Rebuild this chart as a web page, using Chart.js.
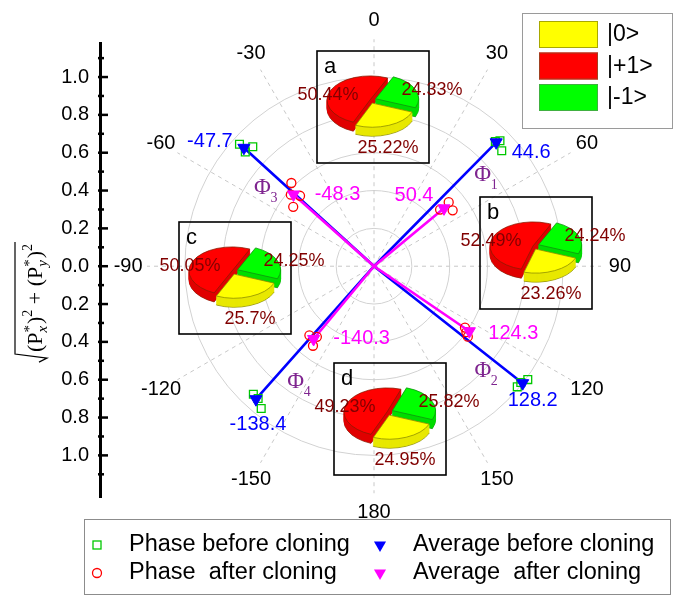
<!DOCTYPE html>
<html lang="en">

<head>
  <meta charset="UTF-8" />
  <title>Phase before and after cloning</title>
  <script src="https://cdn.jsdelivr.net/npm/chart.js"></script>
  <style>
    html, body { margin: 0; padding: 0; background: #fff; }
    #tela { position: relative; width: 676px; height: 595px; }
    #tela > div { position: absolute; pointer-events: none; }
  </style>
</head>

<body>
  <div id="tela">
    <div style="left:0;top:0;width:676px;height:595px;"><canvas id="polarChart"></canvas></div>
  </div>

<script>
  const SANS = '"Liberation Sans", Arial, sans-serif';
  const SERIF = '"Liberation Serif", "Times New Roman", serif';

  // angles in degrees (0 at top, clockwise), radius in units of the left axis
  const angleTicks = [0, 30, 60, 90, 120, 150, 180, -150, -120, -90, -60, -30];
  const ringValues = [0.2, 0.4, 0.6, 0.8, 1.0];
  const radialTicks = [-1.0, -0.8, -0.6, -0.4, -0.2, 0, 0.2, 0.4, 0.6, 0.8, 1.0];
  const radialMinorTicks = [-1.1, -0.9, -0.7, -0.5, -0.3, -0.1, 0.1, 0.3, 0.5, 0.7, 0.9, 1.1];

  const avgBeforeAngle = [44.6, 128.2, -138.4, -47.7];
  const avgBeforeR = [0.92, 1.0, 0.94, 0.93];
  const avgAfterAngle = [50.4, 124.3, -140.3, -48.3];
  const avgAfterR = [0.48, 0.61, 0.50, 0.57];

  const phaseBeforeAngle = [44.2, 45.1, 47.9, 130.1, 126.4, 128.4, -136.7, -138.8, -141.6, -47.8, -45.4, -48.4];
  const phaseBeforeR = [0.92, 0.94, 0.91, 0.99, 1.01, 0.99, 0.93, 0.93, 0.96, 0.96, 0.90, 0.91];
  const phaseAfterAngle = [49.4, 54.6, 49.4, 124.0, 126.9, 125.5, -136.9, -141.0, -142.5, -44.8, -49.3, -46.4, -53.7];
  const phaseAfterR = [0.46, 0.51, 0.52, 0.58, 0.62, 0.60, 0.50, 0.48, 0.53, 0.62, 0.58, 0.54, 0.53];

  const seriesNames = ['Phase before cloning', 'Phase  after cloning', 'Average before cloning', 'Average  after cloning'];
  const phiNames = ['1', '2', '3', '4'];

  const stateLabels = ['|0>', '|+1>', '|-1>'];
  const pieNames = ['a', 'b', 'c', 'd'];
  const pieA = [25.22, 50.44, 24.33];
  const pieB = [23.26, 52.49, 24.24];
  const pieC = [25.7, 50.05, 24.25];
  const pieD = [24.95, 49.23, 25.82];

  // layout
  const pieCenters = [[370, 100], [533, 246], [232, 271], [387, 412]];
  const stateColors = ['#ffff00', '#ff0000', '#00ff00'];
  const stateEdges = ['#8c8c00', '#8a1a00', '#109010'];
  const sideColors = ['#e8e800', '#e00000', '#00dc00'];

  function polar(a, r) {
    const t = a * Math.PI / 180;
    return { x: r * Math.sin(t), y: r * Math.cos(t) };
  }
  function spokes(angles, radii) {
    const pts = [];
    angles.forEach((a, i) => { pts.push({ x: 0, y: 0 }); pts.push(polar(a, radii[i])); });
    return pts;
  }
  function points(angles, radii) {
    return angles.map((a, i) => polar(a, radii[i]));
  }
  function toPixel(chart, a, r) {
    const p = polar(a, r);
    return { x: chart.scales.x.getPixelForValue(p.x), y: chart.scales.y.getPixelForValue(p.y) };
  }

  function square(ctx, x, y, s, color) {
    ctx.strokeStyle = color; ctx.lineWidth = 1.3;
    ctx.strokeRect(x - s / 2, y - s / 2, s, s);
  }
  function circle(ctx, x, y, r, color) {
    ctx.strokeStyle = color; ctx.lineWidth = 1.3;
    ctx.beginPath(); ctx.arc(x, y, r, 0, 2 * Math.PI); ctx.stroke();
  }
  function triangleDown(ctx, x, y, r, color) {
    ctx.fillStyle = color;
    ctx.beginPath();
    ctx.moveTo(x - r * 0.866, y - r / 2);
    ctx.lineTo(x + r * 0.866, y - r / 2);
    ctx.lineTo(x, y + r);
    ctx.closePath(); ctx.fill();
  }

  const polarGrid = {
    id: 'polarGrid',
    beforeDatasetsDraw(chart) {
      const { ctx, scales: { x, y } } = chart;
      const cx = x.getPixelForValue(0), cy = y.getPixelForValue(0);
      const unit = x.getPixelForValue(1) - cx;
      ctx.save();
      ctx.strokeStyle = '#d2d2d2';
      ctx.lineWidth = 1;
      ringValues.forEach(r => {
        ctx.beginPath(); ctx.arc(cx, cy, r * unit, 0, 2 * Math.PI); ctx.stroke();
      });
      ctx.setLineDash([4, 4]);
      ctx.strokeStyle = '#c8c8c8';
      angleTicks.forEach(a => {
        const p = toPixel(chart, a, 1.2);
        ctx.beginPath(); ctx.moveTo(cx, cy); ctx.lineTo(p.x, p.y); ctx.stroke();
      });
      ctx.restore();
    },
    afterDraw(chart) {
      const { ctx, scales: { y } } = chart;
      ctx.save();

      // ticks of the left axis, pointing inwards
      ctx.strokeStyle = '#000';
      ctx.lineWidth = 2.5;
      const ax = y.right - 2;
      radialTicks.forEach(v => {
        const py = y.getPixelForValue(v);
        ctx.beginPath(); ctx.moveTo(ax, py); ctx.lineTo(ax + 10, py); ctx.stroke();
      });
      radialMinorTicks.forEach(v => {
        const py = y.getPixelForValue(v);
        ctx.beginPath(); ctx.moveTo(ax, py); ctx.lineTo(ax + 6, py); ctx.stroke();
      });

      // axis title: sqrt((Px*)^2 + (Py*)^2)
      ctx.translate(42, 298);
      ctx.rotate(-Math.PI / 2);
      const parts = [
        ['(P', 22, 0], ['*|x', 15, 0], [')', 22, 0], ['2', 14, -10],
        [' + (P', 22, 0], ['*|y', 15, 0], [')', 22, 0], ['2', 14, -10]
      ];
      ctx.fillStyle = '#000';
      ctx.textBaseline = 'alphabetic';
      ctx.textAlign = 'left';
      const fontOf = (s, it) => `${it ? 'italic ' : ''}${s}px ${SERIF}`;
      let total = 0;
      parts.forEach(([t, s]) => {
        if (t.includes('|')) {
          const [a, b] = t.split('|');
          ctx.font = fontOf(s); const w1 = ctx.measureText(a).width;
          ctx.font = fontOf(s, true); const w2 = ctx.measureText(b).width;
          total += Math.max(w1, w2) + 1;
        } else {
          ctx.font = fontOf(s); total += ctx.measureText(t).width;
        }
      });
      let u = -total / 2;
      const u0 = u;
      parts.forEach(([t, s, dv]) => {
        if (t.includes('|')) {
          const [a, b] = t.split('|');
          ctx.font = fontOf(s); ctx.fillText(a, u, -8); const w1 = ctx.measureText(a).width;
          ctx.font = fontOf(s, true); ctx.fillText(b, u, 5); const w2 = ctx.measureText(b).width;
          u += Math.max(w1, w2) + 1;
        } else {
          ctx.font = fontOf(s); ctx.fillText(t, u, dv); u += ctx.measureText(t).width;
        }
      });
      ctx.strokeStyle = '#000';
      ctx.lineWidth = 1.2;
      ctx.beginPath();
      ctx.moveTo(u + 2, -27);
      ctx.lineTo(u0 - 2, -27);
      ctx.lineTo(u0 - 6, 5);
      ctx.lineTo(u0 - 10, -3);
      ctx.stroke();
      ctx.setTransform(1, 0, 0, 1, 0, 0);

      // angle labels
      ctx.fillStyle = '#000';
      ctx.font = `20px ${SANS}`;
      ctx.textAlign = 'center';
      ctx.textBaseline = 'middle';
      angleTicks.forEach(a => {
        const p = toPixel(chart, a, 1.3);
        ctx.fillText(String(a), p.x, p.y);
      });

      // values of the averages
      const blueOff = [[35, 10], [10, 17], [2, 25], [-34, -6]];
      const pinkOff = [[-30, -13], [44, 2], [48, -1], [44, 0]];
      ctx.fillStyle = '#0000ff';
      avgBeforeAngle.forEach((a, i) => {
        const p = toPixel(chart, a, avgBeforeR[i]);
        ctx.fillText(a.toFixed(1), p.x + blueOff[i][0], p.y + blueOff[i][1]);
      });
      ctx.fillStyle = '#ff00ff';
      avgAfterAngle.forEach((a, i) => {
        const p = toPixel(chart, a, avgAfterR[i]);
        ctx.fillText(a.toFixed(1), p.x + pinkOff[i][0], p.y + pinkOff[i][1]);
      });

      // Phi labels
      const phiPos = [[50, 0.75], [134, 0.80], [-55, 0.72], [-146, 0.74]];
      ctx.fillStyle = '#7f2590';
      phiNames.forEach((n, i) => {
        const p = toPixel(chart, phiPos[i][0], phiPos[i][1]);
        ctx.font = `23px ${SERIF}`;
        ctx.textAlign = 'center';
        ctx.fillText('Φ', p.x, p.y);
        ctx.font = `14px ${SERIF}`;
        ctx.textAlign = 'left';
        ctx.fillText(n, p.x + 8, p.y + 10);
      });

      // legend of the states
      ctx.strokeStyle = '#9a9a9a';
      ctx.lineWidth = 1;
      ctx.strokeRect(522.5, 13.5, 150, 115);
      ctx.font = `23px ${SANS}`;
      ctx.textAlign = 'left';
      ctx.textBaseline = 'middle';
      stateLabels.forEach((t, i) => {
        const yy = 21 + i * 31.5;
        ctx.fillStyle = stateColors[i];
        ctx.fillRect(539, yy, 59, 27);
        ctx.strokeStyle = ['#a8a800', '#a04020', '#40b040'][i];
        ctx.strokeRect(539.5, yy + 0.5, 58, 26);
        ctx.fillStyle = '#000';
        ctx.fillText(t, 607, yy + 14);
      });

      // legend of the series
      ctx.strokeStyle = '#8c8c8c';
      ctx.strokeRect(84.5, 519.5, 586, 75);
      const cols = [97, 380], rows = [545, 573];
      square(ctx, cols[0], rows[0], 8, '#00c800');
      circle(ctx, cols[0], rows[1], 4.5, '#ff0000');
      triangleDown(ctx, cols[1], rows[0], 7, '#0000ff');
      triangleDown(ctx, cols[1], rows[1], 7, '#ff00ff');
      ctx.fillStyle = '#000';
      ctx.font = `23.5px ${SANS}`;
      ctx.fillText(seriesNames[0], 129, rows[0]);
      ctx.fillText(seriesNames[1], 129, rows[1]);
      ctx.fillText(seriesNames[2], 413, rows[0]);
      ctx.fillText(seriesNames[3], 413, rows[1]);

      ctx.restore();
    }
  };

  Chart.defaults.font.family = SANS;

  new Chart(document.getElementById('polarChart'), {
    type: 'scatter',
    data: {
      datasets: [
        {
          label: 'avg before line', data: spokes(avgBeforeAngle, avgBeforeR), showLine: true,
          borderColor: '#0000ff', borderWidth: 2.6, pointRadius: 0, fill: false, order: 5
        },
        {
          label: 'avg after line', data: spokes(avgAfterAngle, avgAfterR), showLine: true,
          borderColor: '#ff00ff', borderWidth: 2.6, pointRadius: 0, fill: false, order: 4
        },
        {
          label: seriesNames[0], data: points(phaseBeforeAngle, phaseBeforeR), pointStyle: 'rect',
          pointRadius: 5.5, borderColor: '#00c800', backgroundColor: 'rgba(255,255,255,0)', borderWidth: 1.3, order: 3
        },
        {
          label: seriesNames[1], data: points(phaseAfterAngle, phaseAfterR), pointStyle: 'circle',
          pointRadius: 4.5, borderColor: '#ff0000', backgroundColor: 'rgba(255,255,255,0)', borderWidth: 1.3, order: 3
        },
        {
          label: seriesNames[2], data: points(avgBeforeAngle, avgBeforeR), pointStyle: 'triangle', rotation: 180,
          pointRadius: 7, borderColor: '#0000ff', backgroundColor: '#0000ff', borderWidth: 1, order: 1
        },
        {
          label: seriesNames[3], data: points(avgAfterAngle, avgAfterR), pointStyle: 'triangle', rotation: 180,
          pointRadius: 7, borderColor: '#ff00ff', backgroundColor: '#ff00ff', borderWidth: 1, order: 1
        }
      ]
    },
    options: {
      responsive: true,
      maintainAspectRatio: false,
      animation: false,
      events: [],
      layout: { autoPadding: false, padding: { top: 43, bottom: 98, left: 0, right: 8 } },
      scales: {
        x: { type: 'linear', display: false, min: -1.4485, max: 1.5541 },
        y: {
          type: 'linear', position: 'left', min: -1.22, max: 1.18,
          afterFit(s) { s.width = 100; },
          afterBuildTicks(s) { s.ticks = radialTicks.map(v => ({ value: v })); },
          grid: { drawOnChartArea: false, drawTicks: false },
          border: { display: true, color: '#000', width: 3 },
          ticks: {
            autoSkip: false, color: '#000', padding: 11, font: { family: SANS, size: 20 },
            callback: v => Math.abs(v).toFixed(1)
          }
        }
      },
      plugins: { legend: { display: false }, tooltip: { enabled: false } }
    },
    plugins: [polarGrid]
  });

  // 3D exploded pies in the boxes a-d
  const SQ = 0.56, DEPTH = 9;
  const pie3d = {
    id: 'pie3d',
    beforeDatasetsDraw(chart) {
      const ctx = chart.ctx, meta = chart.getDatasetMeta(0);
      const cx = meta.data[0].x, cy = meta.data[0].y;
      ctx.save();
      ctx.translate(cx, cy); ctx.scale(1, SQ); ctx.translate(-cx, -cy);
      for (let k = DEPTH; k >= 1; k--) {
        ctx.save();
        ctx.translate(0, k / SQ);
        meta.data.forEach((arc, i) => {
          const lado = Object.create(arc);
          lado.options = Object.assign({}, arc.options, {
            backgroundColor: sideColors[i],
            borderColor: k === DEPTH ? stateEdges[i] : sideColors[i],
            borderWidth: 1
          });
          lado.draw(ctx);
        });
        ctx.restore();
      }
    },
    afterDatasetsDraw(chart, args, opts) {
      const ctx = chart.ctx;
      ctx.restore();
      const meta = chart.getDatasetMeta(0);
      const cx = meta.data[0].x, cy = meta.data[0].y;
      ctx.save();
      ctx.strokeStyle = '#000';
      ctx.lineWidth = 1.6;
      ctx.strokeRect(cx - 53, cy - 49, 112, 112);
      ctx.fillStyle = '#000';
      ctx.font = `22px ${SANS}`;
      ctx.textAlign = 'left';
      ctx.textBaseline = 'middle';
      ctx.fillText(opts.name, cx - 46, cy - 33);
      const vals = chart.data.datasets[0].data;
      const off = [[18, 48], [-42, -5], [62, -10]];
      ctx.font = `18px ${SANS}`;
      ctx.fillStyle = '#800000';
      ctx.textAlign = 'center';
      vals.forEach((v, i) => ctx.fillText(v + '%', cx + off[i][0], cy + off[i][1]));
      ctx.restore();
    }
  };

  const tela = document.getElementById('tela');
  [pieA, pieB, pieC, pieD].forEach((valores, i) => {
    const [cx, cy] = pieCenters[i];
    const div = document.createElement('div');
    div.style.cssText = `left:${cx - 110}px;top:${cy - 85}px;width:220px;height:170px;`;
    const canvas = document.createElement('canvas');
    div.appendChild(canvas);
    tela.appendChild(div);
    new Chart(canvas, {
      type: 'pie',
      data: {
        labels: stateLabels,
        datasets: [{
          data: valores, backgroundColor: stateColors, borderColor: stateEdges,
          borderWidth: 1, offset: [24, 0, 24]
        }]
      },
      options: {
        responsive: true, maintainAspectRatio: false, animation: false, events: [],
        rotation: 112, radius: 43,
        layout: { padding: 0 },
        plugins: { legend: { display: false }, tooltip: { enabled: false }, pie3d: { name: pieNames[i] } }
      },
      plugins: [pie3d]
    });
  });
</script>
</body>

</html>
